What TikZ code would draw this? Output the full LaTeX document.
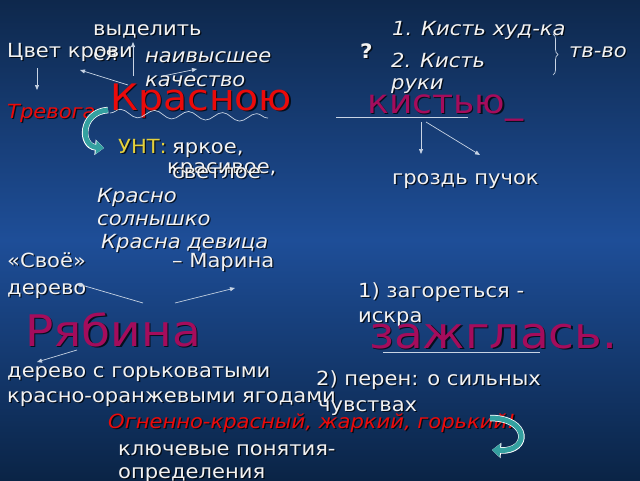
\documentclass[tikz,border=0pt]{standalone}
\usepackage{fontspec}
\setmainfont[FakeStretch=1.08]{DejaVu Sans}
\usetikzlibrary{arrows.meta,decorations.pathreplacing,decorations.pathmorphing}
\definecolor{bgtop}{RGB}{14,40,76}
\definecolor{bgmid}{RGB}{30,78,152}
\definecolor{bgbot}{RGB}{10,36,70}
\definecolor{txtw}{RGB}{242,242,242}
\definecolor{redt}{RGB}{235,10,10}
\definecolor{magt}{RGB}{165,12,92}
\definecolor{yelt}{RGB}{228,208,60}
\definecolor{linec}{RGB}{200,212,228}
\definecolor{tealc}{RGB}{52,160,160}
\newcommand\txt[4]{%
  \node[tx,#2,text=black,opacity=0.75,xshift=1.3pt,yshift=-1.3pt] at (#3) {#4};
  \node[tx,#2] (#1) at (#3) {#4};}
\begin{document}
\begin{tikzpicture}[x=1pt,y=-1pt,
  tx/.style={anchor=base west,inner sep=0pt,text=txtw,font=\fontsize{19.5}{21}\selectfont},
  it/.style={font=\fontsize{19.5}{21}\selectfont\itshape},
  big/.style={font=\fontsize{36.5}{38}\selectfont},
  bigk/.style={font=\fontsize{33.5}{36}\selectfont},
  huge/.style={font=\fontsize{43.5}{46}\selectfont},
  conn/.style={draw=linec,line width=0.7pt},
  arr/.style={conn,-{Triangle[width=4pt,length=5pt]}},
  tealarrow/.style={draw=tealc,line width=5pt,-{Triangle[width=13pt,length=8pt]},
    preaction={draw=white,line width=6.5pt,-{Triangle[width=15pt,length=9pt]}}}]
\useasboundingbox (0,0) rectangle (640,480);
\shade[top color=bgtop,bottom color=bgbot,middle color=bgmid] (0,0) rectangle (640,480);

% top left
\txt{vyd}{}{93,35}{выделить}
\txt{sya}{}{93,60}{ся}
\txt{cvet}{}{7,57}{Цвет крови}
\txt{nai}{it}{145,62}{наивысшее}
\txt{kach}{it}{145,86}{качество}
\txt{trev}{it,text=redt}{7,118}{Тревога}
\txt{kras}{big,text=redt}{110,110}{Красною}

% top right
\txt{q}{font=\fontsize{20}{22}\selectfont\bfseries}{360,58}{?}
\txt{k1}{it}{392,35}{1. Кисть худ-ка}
\txt{k2}{it}{391,67}{2. Кисть}
\txt{ruki}{it}{391,89}{руки}
\txt{tvo}{it}{569,57}{тв-во}
\txt{kist}{bigk,text=magt}{367,113}{кистью\_}
\txt{grozd}{}{392,184}{гроздь пучок}

% middle left
\txt{unt}{text=yelt}{118,153}{УНТ:}
\txt{yark}{}{172,153}{яркое,}
\txt{krasiv}{}{167,173}{красивое,}
\txt{svetl}{}{172,178}{светлое}
\txt{krasno}{it}{97,202}{Красно}
\txt{soln}{it}{97,225}{солнышко}
\txt{dev}{it}{101,248}{ Красна девица}
\txt{svoe}{}{7,267}{«Своё»}
\txt{mar}{}{172,267}{– Марина}
\txt{derevo}{}{7,294}{дерево}
\txt{ryab}{huge,text=magt}{25,346}{Рябина}

% middle right
\txt{zag}{}{358,297}{1) загореться -}
\txt{iskra}{}{358,322}{искра}
\txt{zazh}{huge,text=magt}{369,348}{зажглась.}
\txt{per}{}{316,385}{2) перен: о сильных}

% bottom
\txt{der2}{}{7,377}{дерево с горьковатыми}
\txt{kro}{}{7,402}{красно-оранжевыми ягодами}
\txt{chuv}{}{318,411}{чувствах}
\txt{ogn}{it,text=redt}{108,428}{Огненно-красный, жаркий, горький!}
\txt{kl}{}{118,455}{ключевые понятия-}
\txt{opr}{}{118,478}{определения}

% connector coordinates
\coordinate (c1s) at (37,68);  \coordinate (c1e) at (37,90);
\coordinate (c2s) at (128,85); \coordinate (c2e) at (80,70);
\coordinate (c3s) at (133,76); \coordinate (c3e) at (133,42);
\coordinate (c4s) at (163,76); \coordinate (c4e) at (197,69);
\coordinate (u1s) at (336,117); \coordinate (u1e) at (468,117);
\coordinate (k1s) at (421,122); \coordinate (k1e) at (421,154);
\coordinate (k2s) at (426,122); \coordinate (k2e) at (480,155);
\coordinate (r1s) at (143,303); \coordinate (r1e) at (78,284);
\coordinate (r2s) at (175,303); \coordinate (r2e) at (235,288);
\coordinate (r3s) at (77,350);  \coordinate (r3e) at (37,362);
\coordinate (u2s) at (383,352); \coordinate (u2e) at (540,352);
\coordinate (w1) at (110,113);  \coordinate (w2) at (268,118);
\coordinate (b1) at (553,34);   \coordinate (b2) at (553,75);
\coordinate (t1s) at (108,110); \coordinate (t1e) at (104,148);
\coordinate (t2s) at (490,418); \coordinate (t2e) at (492,450);

\draw[arr] (c1s) -- (c1e);
\draw[arr] (c2s) -- (c2e);
\draw[arr] (c3s) -- (c3e);
\draw[arr] (c4s) -- (c4e);
\draw[conn] (u1s) -- (u1e);
\draw[arr] (k1s) -- (k1e);
\draw[arr] (k2s) -- (k2e);
\draw[conn,-{Circle[width=4pt,length=5pt]}] (r1s) -- (r1e);
\draw[arr] (r2s) -- (r2e);
\draw[arr] (r3s) -- (r3e);
\draw[conn] (u2s) -- (u2e);
\draw[conn,decorate,decoration={snake,segment length=34pt,amplitude=4pt}] (w1) -- (w2);
\draw[conn,decorate,decoration={brace,amplitude=5pt}] (b1) -- (b2);
\draw[tealarrow] (t1s) .. controls (80,112) and (80,146) .. (t1e);
\draw[tealarrow] (t2s) .. controls (530,418) and (530,452) .. (t2e);
\end{tikzpicture}
\end{document}
